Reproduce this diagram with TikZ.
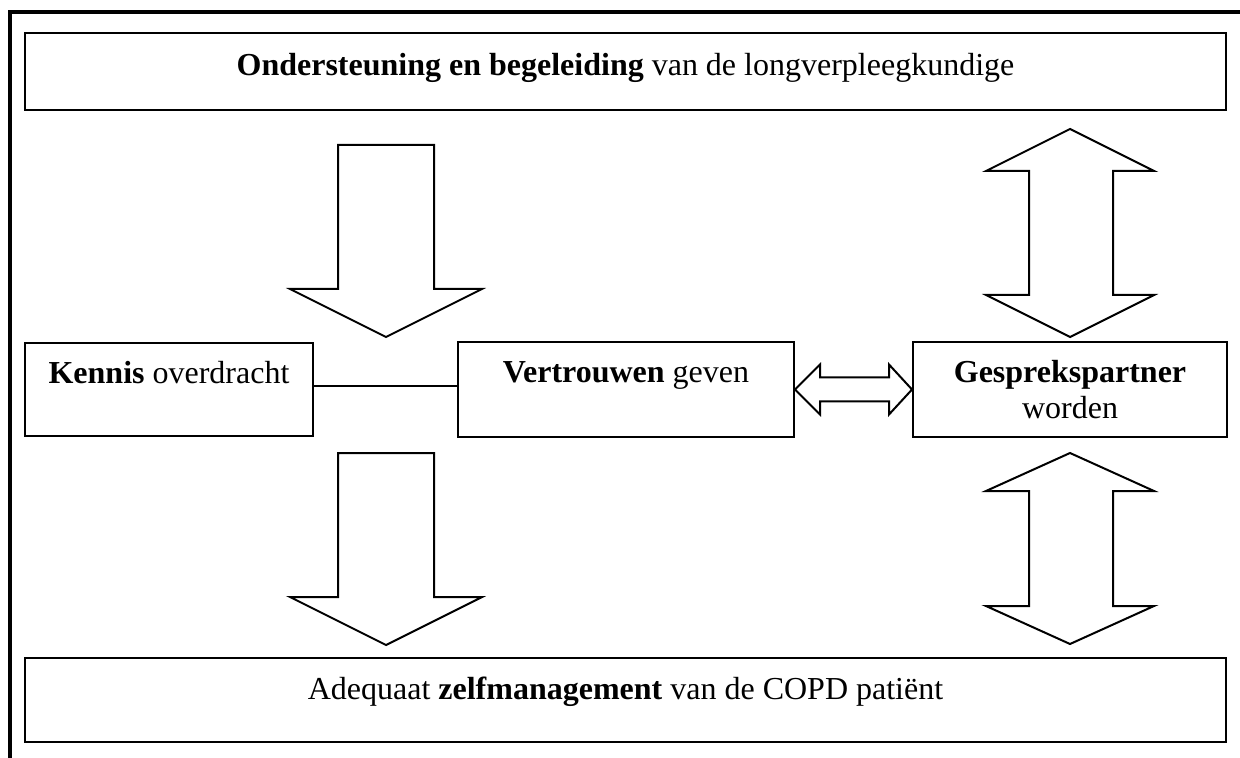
\documentclass[tikz,border=0pt]{standalone}
\usepackage{fontspec}
\setmainfont{Liberation Serif}
\usetikzlibrary{calc, positioning}

\begin{document}
\begin{tikzpicture}[x=0.5pt, y=-0.5pt,
    box/.style={draw, rectangle, line width=1pt, inner sep=0pt},
    boxtext/.style={anchor=base, align=center, inner sep=0pt,
                    font=\fontsize{16}{18}\selectfont},
    blockarrow/.style={draw, line width=1pt, line join=miter}]

    % 1. Fix the page size and draw the frame (top and left only)
    \useasboundingbox (0,0) rectangle (1240,758);
    \draw[line width=2pt] (10,758) -- (10,12) -- (1240,12);

    % 2. The wide boxes at top and bottom
    \node[box, minimum width=600.5pt, minimum height=38.5pt] (top) at (625.5,71.5) {};
    \node[box, minimum width=600.5pt, minimum height=42pt] (bottom) at (625.5,700) {};

    % 3. The three boxes in the middle row
    \node[box, minimum width=144pt, minimum height=46.5pt] (kennis) at (169,389.5) {};
    \node[box, minimum width=168pt, minimum height=47.5pt] (vertrouwen) at (626,389.5) {};
    \node[box, minimum width=157pt, minimum height=47.5pt] (gesprek) at (1070,389.5) {};

    % 4. Texts, set near the top of each box
    \node[boxtext] (toptxt) at ($(top.north)+(0,44)$)
        {\textbf{Ondersteuning en begeleiding} van de longverpleegkundige};
    \node[boxtext] (bottomtxt) at ($(bottom.north)+(0,42)$)
        {Adequaat \textbf{zelfmanagement} van de COPD patiënt};
    \node[boxtext] (kennistxt) at ($(kennis.north)+(0,42)$)
        {\textbf{Kennis} overdracht};
    \node[boxtext] (vertrouwentxt) at ($(vertrouwen.north)+(0,42)$)
        {\textbf{Vertrouwen} geven};
    % base of a two-line node is the last line
    \node[boxtext] (gesprektxt) at ($(gesprek.north)+(0,78)$)
        {\textbf{Gesprekspartner}\\worden};

    % 5. Plain line between Kennis and Vertrouwen
    \draw[line width=1pt] ($(kennis.east)+(0,-3.5)$) coordinate (k1)
        -- (k1 -| vertrouwen.west);

    % 6. Double block arrow between Vertrouwen and Gesprekspartner
    \draw[blockarrow] (vertrouwen.east) -- ++(25,-25) -- ++(0,13)
        -- ($(gesprek.west)+(-23,-12)$) -- ++(0,-13) -- (gesprek.west)
        -- ++(-23,25) -- ++(0,-13) -- ($(vertrouwen.east)+(25,12)$)
        -- ++(0,13) -- cycle;

    % 7. Down block arrows on the left (top, head base, tip)
    \foreach \t/\b/\p in {145/289/337, 453/597/645}
        \draw[blockarrow] (338,\t) -- (434,\t) -- (434,\b) -- (482,\b)
            -- (386,\p) -- (290,\b) -- (338,\b) -- cycle;

    % 8. Up-down block arrows on the right (tip, head base, head base, tip)
    \foreach \t/\a/\b/\p in {129/171/295/337, 453/491/606/644}
        \draw[blockarrow] (1070,\t) -- (1154,\a) -- (1113,\a) -- (1113,\b)
            -- (1154,\b) -- (1070,\p) -- (986,\b) -- (1029,\b)
            -- (1029,\a) -- (986,\a) -- cycle;

\end{tikzpicture}
\end{document}
